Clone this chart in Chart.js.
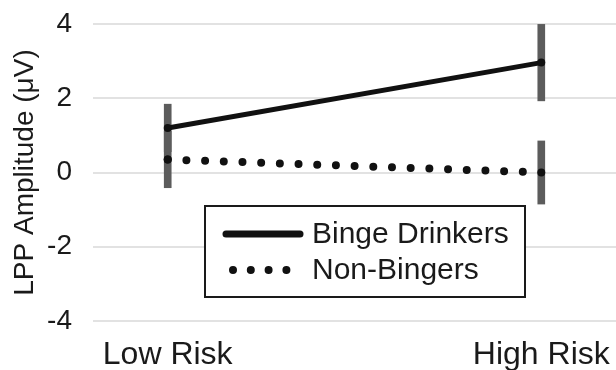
<!DOCTYPE html>
<html>
<head>
<meta charset="utf-8">
<script src="https://cdn.jsdelivr.net/npm/chart.js@4/dist/chart.umd.min.js"></script>
<style>
  html, body { margin: 0; padding: 0; background: #ffffff; }
  #wrap { width: 616px; height: 370px; }
</style>
</head>
<body>
<div id="wrap"><canvas id="chart" width="616" height="370"></canvas></div>
<script>
// Conditions along the x axis
const categories = ['Low Risk', 'High Risk'];
// Group names
const seriesNames = ['Binge Drinkers', 'Non-Bingers'];
// Mean LPP amplitude (µV) per condition
const bingeMeans = [1.2, 2.96];
const nonBingeMeans = [0.35, 0.0];
// Error bar half-lengths (µV)
const bingeErrors = [0.64, 1.03];
const nonBingeErrors = [0.76, 0.85];
// Y axis tick values
const yTicks = [-4, -2, 0, 2, 4];

const FONT = '"Liberation Sans", Arial, Helvetica, sans-serif';
const INK = '#1a1a1a';
const DOT_GAP = 18.7;

const points = (vals) => vals.map((v, i) => ({ x: i, y: v }));
const ranges = (vals, errs) => vals.map((v, i) => ({ x: i, y: [v - errs[i], v + errs[i]] }));

// Boxed legend drawn inside the plotting area
const boxedLegend = {
  id: 'boxedLegend',
  afterDatasetsDraw(chart) {
    const { ctx, chartArea } = chart;
    const bx = chartArea.left + 112;
    const by = chartArea.top + 182;
    const bw = 320, bh = 91;
    ctx.save();
    ctx.fillStyle = '#ffffff';
    ctx.fillRect(bx, by, bw, bh);
    ctx.lineWidth = 2;
    ctx.strokeStyle = '#1a1a1a';
    ctx.strokeRect(bx, by, bw, bh);

    const lineDs = chart.data.datasets.filter(d => d.type === 'line');
    lineDs.forEach((ds, k) => {
      const cy = by + 28 + k * 36;
      ctx.save();
      ctx.strokeStyle = ds.borderColor;
      ctx.lineCap = 'round';
      if (ds.borderDash && ds.borderDash.length) {
        ctx.lineWidth = ds.borderWidth;
        ctx.setLineDash([0, 17.8]);
        ctx.beginPath();
        ctx.moveTo(bx + 28, cy);
        ctx.lineTo(bx + 82, cy);
        ctx.stroke();
      } else {
        ctx.lineWidth = 7;
        ctx.beginPath();
        ctx.moveTo(bx + 21, cy);
        ctx.lineTo(bx + 95, cy);
        ctx.stroke();
      }
      ctx.restore();
      ctx.fillStyle = INK;
      ctx.font = '30px ' + FONT;
      ctx.textAlign = 'left';
      ctx.textBaseline = 'middle';
      ctx.fillText(ds.label, bx + 107, cy + 1);
    });
    ctx.restore();
  }
};

new Chart(document.getElementById('chart'), {
  type: 'line',
  data: {
    datasets: [
      {
        type: 'line',
        label: seriesNames[0],
        data: points(bingeMeans),
        borderColor: '#111111',
        backgroundColor: '#111111',
        borderWidth: 5,
        pointRadius: 4,
        pointBorderWidth: 0,
        pointBackgroundColor: '#111111',
        order: 0
      },
      {
        type: 'line',
        label: seriesNames[1],
        data: points(nonBingeMeans),
        borderColor: '#111111',
        backgroundColor: '#111111',
        borderWidth: 8,
        borderDash: [0, DOT_GAP],
        borderCapStyle: 'round',
        pointRadius: 4,
        pointBorderWidth: 0,
        pointBackgroundColor: '#111111',
        order: 1
      },
      {
        type: 'bar',
        label: seriesNames[0] + ' error',
        data: ranges(bingeMeans, bingeErrors),
        backgroundColor: '#5c5c5c',
        borderWidth: 0,
        barThickness: 7,
        grouped: false,
        order: 10
      },
      {
        type: 'bar',
        label: seriesNames[1] + ' error',
        data: ranges(nonBingeMeans, nonBingeErrors),
        backgroundColor: '#5c5c5c',
        borderWidth: 0,
        barThickness: 7,
        grouped: false,
        order: 10
      }
    ]
  },
  options: {
    responsive: false,
    animation: false,
    events: [],
    layout: { autoPadding: false, padding: { top: 24, right: 0, left: 0, bottom: 0 } },
    plugins: {
      legend: { display: false },
      tooltip: { enabled: false }
    },
    scales: {
      x: {
        type: 'linear',
        min: -0.2,
        max: 1.2,
        offset: false,
        grid: { display: false, drawTicks: false },
        border: { display: false },
        afterBuildTicks(scale) {
          scale.ticks = categories.map((_, i) => ({ value: i }));
        },
        afterFit(scale) {
          scale.height = 49;
          scale.paddingLeft = 0;
          scale.paddingRight = 0;
        },
        ticks: {
          autoSkip: false,
          maxRotation: 0,
          padding: 15,
          color: INK,
          font: { family: FONT, size: 32 },
          callback: (v) => categories[v]
        }
      },
      y: {
        min: yTicks[0],
        max: yTicks[yTicks.length - 1],
        afterBuildTicks(scale) {
          scale.ticks = yTicks.map(v => ({ value: v }));
        },
        afterFit(scale) {
          scale.width = 93;
          scale.paddingTop = 0;
          scale.paddingBottom = 0;
        },
        grid: { color: '#e2e2e2', lineWidth: 2, drawTicks: false },
        border: { display: false },
        ticks: {
          padding: 21,
          color: INK,
          font: { family: FONT, size: 28 }
        },
        title: {
          display: true,
          text: 'LPP Amplitude (μV)',
          color: INK,
          font: { family: FONT, size: 28 },
          padding: { top: 8, bottom: 0 }
        }
      }
    }
  },
  plugins: [boxedLegend]
});
</script>
</body>
</html>
